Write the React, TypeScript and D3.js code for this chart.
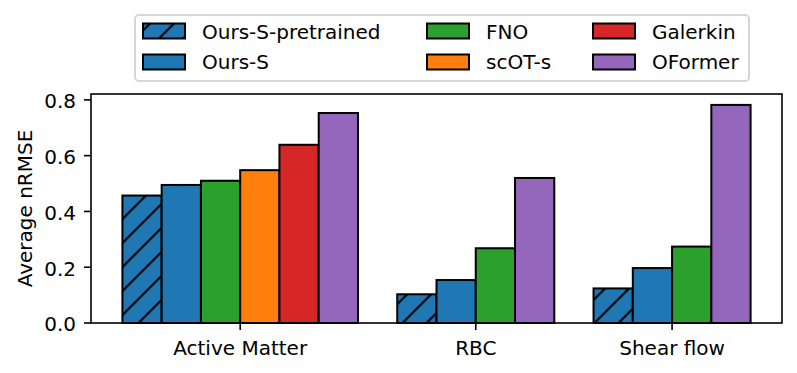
import React from "react";
import * as d3 from "d3";

const categories = ["Active Matter", "RBC", "Shear flow"];
const methods = ["Ours-S-pretrained", "Ours-S", "FNO", "scOT-s", "Galerkin", "OFormer"];
const colors = ["#1f77b4", "#1f77b4", "#2ca02c", "#ff7f0e", "#d62728", "#9467bd"];
const hatched = [true, false, false, false, false, false];
const oursPretrained = [0.457, 0.103, 0.124];
const oursS = [0.495, 0.154, 0.197];
const fno = [0.51, 0.268, 0.274];
const scot = [0.548, null, null];
const galerkin = [0.639, null, null];
const oformer = [0.753, 0.52, 0.782];
const yTicks = [0, 0.2, 0.4, 0.6, 0.8];

const series = [oursPretrained, oursS, fno, scot, galerkin, oformer];

const W = 797, H = 373;
const ax = { left: 91, right: 782, top: 94, bottom: 323 };
const FONT = "'DejaVu Sans', sans-serif";
const FS = 20;

type Bar = { x: number; v: number; m: number };

export default function App() {
  const bars: Bar[] = [];
  const catPos: number[] = [];
  let pos = 0;
  categories.forEach((_, ci) => {
    const ps: number[] = [];
    series.forEach((s, mi) => {
      const v = s[ci];
      if (v !== null && v !== undefined) {
        bars.push({ x: pos, v: v as number, m: mi });
        ps.push(pos);
        pos++;
      }
    });
    catPos.push(d3.mean(ps) as number);
    pos++;
  });
  const minX = -0.5, maxX = pos - 1.5;
  const span = maxX - minX;
  const x = d3.scaleLinear().domain([minX - 0.05 * span, maxX + 0.05 * span]).range([ax.left, ax.right]);
  const maxV = d3.max(bars, (b) => b.v) as number;
  const y = d3.scaleLinear().domain([0, maxV * 1.05]).range([ax.bottom, ax.top]);
  const bw = x(1) - x(0);

  const legendCols = [143, 427, 593];
  const legendHandleY = [23.5, 54.5];
  const legendBaseline = [38.5, 69];

  return (
    <svg width={W} height={H} style={{ position: "absolute", left: 0, top: 0, background: "#fff" }} fontFamily={FONT}>
      <defs>
        <pattern id="hatch" patternUnits="userSpaceOnUse" width={24} height={24} patternTransform="translate(5.5,0)">
          <line x1={0} y1={24} x2={24} y2={0} stroke="#000" strokeWidth={2} />
          <line x1={-6} y1={6} x2={6} y2={-6} stroke="#000" strokeWidth={2} />
          <line x1={18} y1={30} x2={30} y2={18} stroke="#000" strokeWidth={2} />
        </pattern>
      </defs>
      <rect x={0} y={0} width={W} height={H} fill="#fff" />
      {bars.map((b, i) => (
        <g key={i}>
          <rect x={x(b.x - 0.5)} y={y(b.v)} width={bw} height={y(0) - y(b.v)} fill={colors[b.m]} />
          {hatched[b.m] && (
            <rect x={x(b.x - 0.5)} y={y(b.v)} width={bw} height={y(0) - y(b.v)} fill="url(#hatch)" />
          )}
          <rect x={x(b.x - 0.5)} y={y(b.v)} width={bw} height={y(0) - y(b.v)} fill="none" stroke="#000" strokeWidth={2} />
        </g>
      ))}
      <rect x={ax.left} y={ax.top} width={ax.right - ax.left} height={ax.bottom - ax.top} fill="none" stroke="#000" strokeWidth={1.6} />
      {yTicks.map((t) => (
        <g key={t}>
          <line x1={ax.left - 7} x2={ax.left} y1={y(t)} y2={y(t)} stroke="#000" strokeWidth={1.6} />
          <text x={ax.left - 15} y={y(t) + 8.3} textAnchor="end" fontSize={FS} fill="#000">
            {t.toFixed(1)}
          </text>
        </g>
      ))}
      {categories.map((c, i) => (
        <g key={c}>
          <line x1={x(catPos[i])} x2={x(catPos[i])} y1={ax.bottom} y2={ax.bottom + 7} stroke="#000" strokeWidth={1.6} />
          <text x={x(catPos[i])} y={355} textAnchor="middle" fontSize={FS} fill="#000">
            {c}
          </text>
        </g>
      ))}
      <text transform={`translate(32,${(ax.top + ax.bottom) / 2}) rotate(-90)`} textAnchor="middle" fontSize={FS} fill="#000">
        Average nRMSE
      </text>
      <rect x={135} y={15} width={614} height={66} rx={4} ry={4} fill="#fff" fillOpacity={0.8} stroke="#d6d6d6" strokeWidth={2} />
      {methods.map((m, i) => {
        const col = Math.floor(i / 2), row = i % 2;
        const hx = legendCols[col], hy = legendHandleY[row];
        return (
          <g key={m}>
            <rect x={hx} y={hy} width={42} height={15} fill={colors[i]} />
            {hatched[i] && <rect x={hx} y={hy} width={42} height={15} fill="url(#hatch)" />}
            <rect x={hx} y={hy} width={42} height={15} fill="none" stroke="#000" strokeWidth={2} />
            <text x={hx + 59} y={legendBaseline[row]} fontSize={FS} fill="#000">
              {m}
            </text>
          </g>
        );
      })}
    </svg>
  );
}
